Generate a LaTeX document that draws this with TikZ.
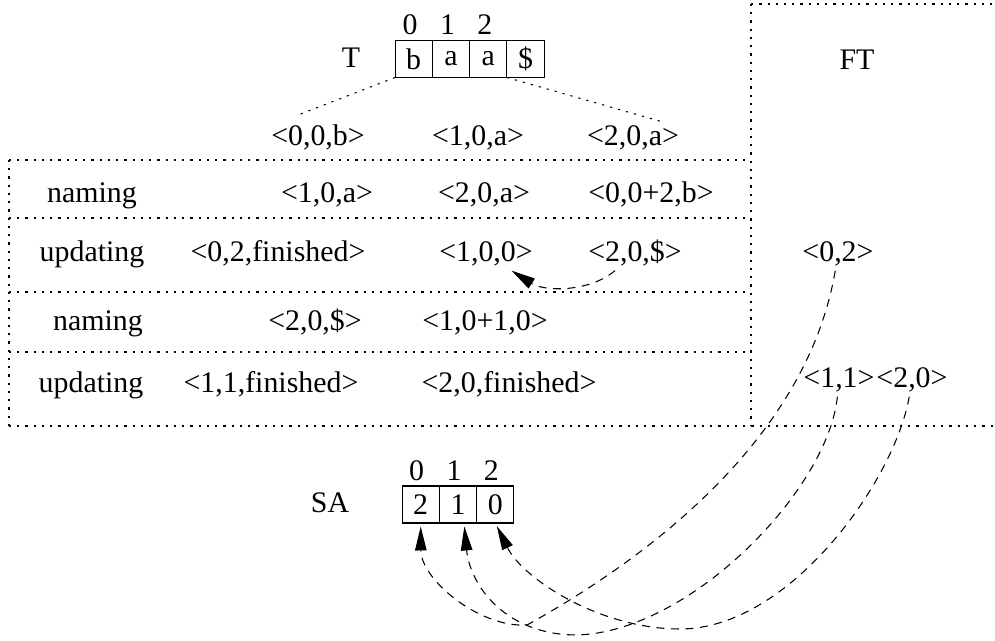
\documentclass[tikz,border=0pt]{standalone}
\usepackage{fontspec}
\setmainfont{Liberation Serif}
\usetikzlibrary{arrows.meta, positioning}

\begin{document}
\begin{tikzpicture}[x=0.02cm, y=-0.02cm, line width=0.6pt,
    font=\fontsize{17}{20}\selectfont,
    cell/.style={draw, minimum width=0.746cm, minimum height=0.74cm,
                 inner sep=0pt, outer sep=0pt},
    idx/.style={inner sep=0pt},
    tup/.style={inner sep=2pt, anchor=base},
    frame/.style={dash pattern=on 0.045cm off 0.12cm},
    link/.style={dash pattern=on 0.16cm off 0.13cm,
                 -{Triangle[length=4.8mm, width=2.3mm]}}
  ]
    \useasboundingbox (0,0) rectangle (995,641);

    \draw[frame] (751,4) -- (995,4);
    \draw[frame] (751,4) -- (751,426);
    \draw[frame] (9,160) -- (9,426);
    \draw[frame] (9,426) -- (995,426);
    \foreach \y in {160,218,292,352}
      \draw[frame] (9,\y) -- (751,\y);

    \node[tup] (tlbl) at (351,68) {T};
    \node[cell] (t0) at (413.7,59) {b};
    \node[cell, right=0pt of t0] (t1) {a};
    \node[cell, right=0pt of t1] (t2) {a};
    \node[cell, right=0pt of t2] (t3) {\$};
    \node[idx, above=0.1cm of t0, xshift=-0.07cm] (ti0) {0};
    \node[idx, above=0.1cm of t1, xshift=-0.07cm] (ti1) {1};
    \node[idx, above=0.1cm of t2, xshift=-0.07cm] (ti2) {2};
    \node[tup] (ft) at (857,70) {FT};

    \node[tup] (p0) at (318,146) {<0,0,b>};
    \node[tup] (p1) at (478,146) {<1,0,a>};
    \node[tup] (p2) at (633,146) {<2,0,a>};
    \coordinate (tl) at (298,115);
    \coordinate (tr) at (663,122);
    \draw[frame] (t0.south west) -- (tl);
    \draw[frame] (t3.south west) -- (tr);

    \node[tup] (r1) at (92,203) {naming};
    \node[tup] (n1a) at (327,203) {<1,0,a>};
    \node[tup] (n1b) at (484,203) {<2,0,a>};
    \node[tup] (n1c) at (651,203) {<0,0+2,b>};

    \node[tup] (r2) at (92,262) {updating};
    \node[tup] (u02) at (278,262) {<0,2,finished>};
    \node[tup] (u10) at (486,262) {<1,0,0>};
    \node[tup] (u23) at (635,262) {<2,0,\$>};
    \node[tup] (f02) at (838,262) {<0,2>};

    \node[tup] (r3) at (98,331) {naming};
    \node[tup] (m20) at (315,331) {<2,0,\$>};
    \node[tup] (m10) at (485,331) {<1,0+1,0>};

    \node[tup] (r4) at (91,393) {updating};
    \node[tup] (v11) at (271,393) {<1,1,finished>};
    \node[tup] (v20) at (509,393) {<2,0,finished>};
    \node[tup] (f11) at (839,388) {<1,1>};
    \node[tup] (f20) at (912,388) {<2,0>};

    \node[tup] (salbl) at (330,513) {SA};
    \node[cell] (s0) at (420.7,504.5) {2};
    \node[cell, right=0pt of s0] (s1) {1};
    \node[cell, right=0pt of s1] (s2) {0};
    \node[idx, above=0.1cm of s0, xshift=-0.08cm] (si0) {0};
    \node[idx, above=0.1cm of s1, xshift=-0.08cm] (si1) {1};
    \node[idx, above=0.1cm of s2, xshift=-0.08cm] (si2) {2};

    \draw[link] (u23) .. controls (590,292) and (545,292) .. (u10);
    \draw[link, shorten >=0.07cm] (f02) .. controls (810,420) and (680,540) .. (527,625)
      .. controls (480,628) and (421,580) .. (s0.south);
    \draw[link, shorten >=0.07cm] (f11) .. controls (828,490) and (690,632) .. (577,635)
      .. controls (505,635) and (470,585) .. ([xshift=0.12cm]s1.south);
    \draw[link, shorten >=0.07cm] (f20) .. controls (895,480) and (790,629) .. (680,629)
      .. controls (600,629) and (523,579) .. (s2.south);
  \end{tikzpicture}
\end{document}
